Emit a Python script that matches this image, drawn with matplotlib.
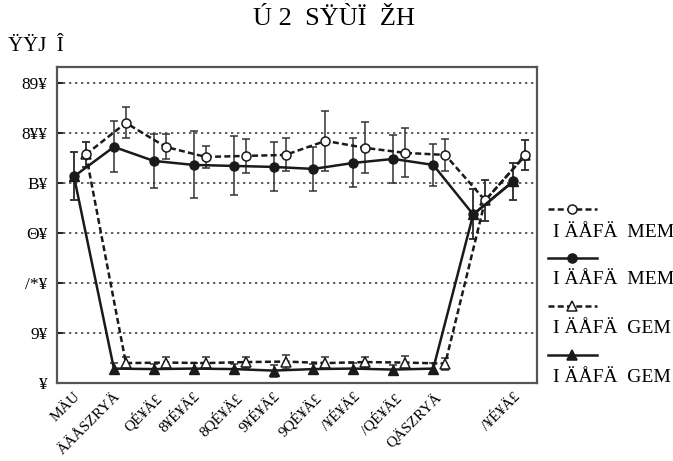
import matplotlib.pyplot as plt
import numpy as np
from matplotlib.lines import Line2D

plt.rcParams['font.family'] = ['Liberation Serif', 'DejaVu Serif']

# Data
x_labels = ['MÄU', 'ÄÄÅSZRYÄ', 'QÉ¥Ä£', '8¥É¥Ä£', '8QÉ¥Ä£', '9¥É¥Ä£',
            '9QÉ¥Ä£', '/¥É¥Ä£', '/QÉ¥Ä£', 'QÄSZRYÄ', '', '/¥É¥Ä£']
y_ticks = [0, 20, 40, 60, 80, 100, 120]
y_tick_labels = ['¥', '9¥', '/*¥', 'Θ¥', 'B¥', '8¥¥', '89¥']

# dashed, open circle
a_vals = [91.4, 104.0, 94.4, 90.4, 90.8, 91.2, 96.8, 94.0, 92.0, 91.2, 73.0, 91.0]
a_err = [5.0, 6.2, 5.0, 4.4, 6.8, 6.6, 12.0, 10.2, 9.8, 6.4, 8.2, 6.0]
# solid, filled circle
b_vals = [82.6, 94.4, 88.8, 87.2, 86.8, 86.4, 85.6, 88.0, 89.6, 87.2, 67.4, 80.6]
b_err = [9.6, 10.2, 10.8, 13.4, 11.8, 9.8, 8.8, 9.8, 9.6, 8.4, 10.0, 7.4]
# dashed, open triangle
c_vals = [91.4, 8.0, 8.2, 8.0, 8.4, 8.6, 8.0, 8.4, 8.2, 7.8, 73.0, 91.0]
c_err = [5.0, 2.4, 2.2, 2.4, 2.2, 2.8, 2.4, 2.2, 2.6, 2.4, 8.2, 6.0]
# solid, filled triangle
d_vals = [82.6, 5.8, 5.6, 5.8, 5.6, 5.0, 5.6, 5.8, 5.4, 5.8, 67.4, 80.6]
d_err = [9.6, 2.2, 2.0, 2.2, 2.0, 2.4, 2.0, 2.2, 2.0, 2.2, 10.0, 7.4]

legend_labels = ['I ÄÅFÄ  MEM', 'I ÄÅFÄ  MEM', 'I ÄÅFÄ  GEM', 'I ÄÅFÄ  GEM']

x = np.arange(len(x_labels))
shift = 0.3
dash = (0, (2.4, 1.3))
ink = '#1a1a1a'

fig = plt.figure(figsize=(6.73, 4.61), dpi=100)
ax = fig.add_axes([0.085, 0.169, 0.713, 0.686])

common = dict(color=ink, lw=1.8, ms=6.5, capsize=3, elinewidth=1.1,
              capthick=1.1, ecolor='#333333')

ax.errorbar(x + shift, c_vals, yerr=c_err, ls=dash, marker='^',
            mfc='white', mec=ink, mew=1.1, **common)
ax.errorbar(x, d_vals, yerr=d_err, ls='-', marker='^',
            mfc=ink, mec=ink, **common)
ax.errorbar(x + shift, a_vals, yerr=a_err, ls=dash, marker='o',
            mfc='white', mec=ink, mew=1.1, **common)
ax.errorbar(x, b_vals, yerr=b_err, ls='-', marker='o',
            mfc=ink, mec=ink, **common)

ax.set_xlim(-0.42, 11.6)
ax.set_ylim(0, 126.4)
ax.set_yticks(y_ticks)
ax.set_yticklabels(y_tick_labels, fontsize=12.5)
ax.set_xticks(x)
ax.set_xticklabels(x_labels, rotation=45, ha='right', rotation_mode='anchor',
                   fontsize=11)
ax.tick_params(axis='x', length=0, pad=5)
ax.tick_params(axis='y', direction='in', length=4, width=1.2, pad=7)

for yv in y_ticks[1:]:
    ax.axhline(yv, color='#444444', lw=1.2, ls=(0, (1.4, 2.2)), zorder=0)

for s in ax.spines.values():
    s.set_color('#555555')
    s.set_linewidth(1.6)

fig.text(0.497, 0.958, 'Ú 2  SŸÙÏ  ŽH', ha='center', va='center', fontsize=19)
fig.text(0.012, 0.90, 'ŸŸJ  Î', ha='left', va='center', fontsize=15)

# legend: sample line above each label
styles = [(dash, 'o', 'white'), ('-', 'o', ink), (dash, '^', 'white'), ('-', '^', ink)]
line_y = [210, 259, 307, 356]
text_y = [232, 280, 328, 377]
for (ls, mk, fc), ly, ty, lab in zip(styles, line_y, text_y, legend_labels):
    h = Line2D([], [], color=ink, lw=1.8, ls=ls, marker=mk, mfc=fc, mec=ink,
               mew=1.1, ms=6.5)
    fig.legend([h], [''], loc='center left',
               bbox_to_anchor=(548 / 673, 1 - ly / 461), frameon=False,
               handlelength=3.5, handletextpad=0, borderpad=0,
               borderaxespad=0, fontsize=10)
    fig.text(553 / 673, 1 - ty / 461, lab, ha='left', va='center', fontsize=14)

fig.savefig('out.png', dpi=100)
